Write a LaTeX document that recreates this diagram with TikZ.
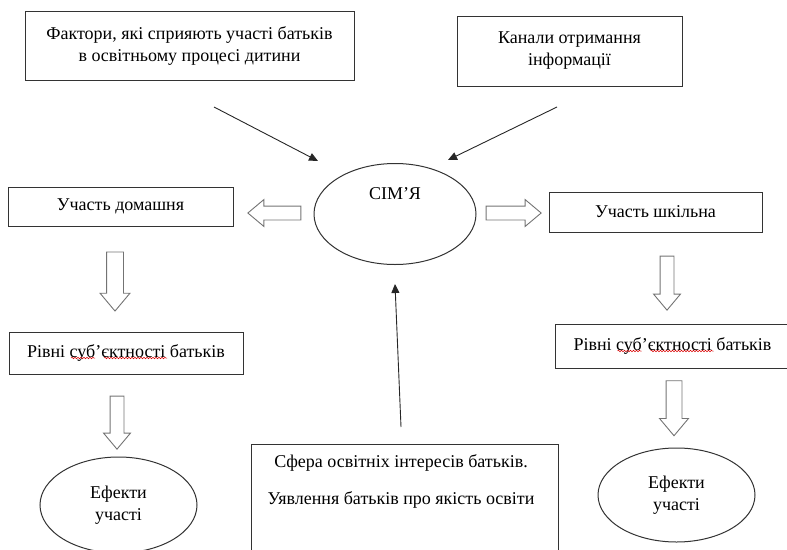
\documentclass[tikz,border=0pt]{standalone}
\usepackage{fontspec}
\setmainfont{Liberation Serif}
\usetikzlibrary{shapes.geometric,shapes.arrows,arrows.meta,decorations.pathmorphing}

\begin{document}
\begin{tikzpicture}[x=1pt,y=-1pt,
		every node/.style={font=\fontsize{18}{22}\selectfont},
		box/.style={draw=black!80,line width=1pt,rectangle,inner sep=0pt},
		oval/.style={draw=black!80,line width=1pt,ellipse,inner sep=0pt},
		barrow/.style={draw=black!55,line width=0.9pt,single arrow,inner xsep=0pt,inner ysep=6.5pt,single arrow head extend=6.5pt,single arrow tip angle=80},
		vbarrow/.style={barrow,inner xsep=#1,inner ysep=0pt,shape border rotate=270},
		vbarrow/.default=6.5pt,
		pointer/.style={draw=black!85,line width=0.9pt,-{Triangle[length=9pt,width=8pt]}},
		squiggle/.style={draw=red!85!black,line width=0.5pt,decorate,decoration={snake,amplitude=0.8pt,segment length=3pt}}]
	\useasboundingbox (0,0) rectangle (787,549);
	% top boxes
	\node[box,minimum width=329,minimum height=69,align=center] (fact) at (189.5,45.5) {Фактори, які сприяють участі батьків\\в освітньому процесі дитини};
	\node[box,minimum width=225,minimum height=70,align=center] (chan) at (569.5,51) {Канали отримання\\інформації};
	% centre
	\node[oval,minimum width=162,minimum height=101,label={[yshift=20pt]center:СІМ’Я}] (sim) at (395,214) {};
	% left column
	\node[box,minimum width=225,minimum height=39] (home) at (120.5,206.5) {Участь домашня};
	\node[box,minimum width=234,minimum height=42] (lvlL) at (126,353) {Рівні суб’єктності батьків};
	\node[oval,minimum width=157,minimum height=96,align=center] (effL) at (118.5,505) {Ефекти\\участі};
	% right column
	\node[box,minimum width=213,minimum height=40] (school) at (655.5,212) {Участь шкільна};
	\node[box,minimum width=235,minimum height=44] (lvlR) at (672.5,346) {Рівні суб’єктності батьків};
	\node[oval,minimum width=157,minimum height=94,align=center] (effR) at (676.5,495) {Ефекти\\участі};
	% bottom
	\node[box,minimum width=307,minimum height=130,anchor=north] (sph) at (404.5,444) {};
	\node[anchor=north,align=center] (sphtext) at (401,451) {Сфера освітніх інтересів батьків.\\[15pt]Уявлення батьків про якість освіти};

	% spelling marks
	\draw[squiggle] ([xshift=-55pt,yshift=-5pt]lvlL.center) -- ++(24,0);
	\draw[squiggle] ([xshift=-22pt,yshift=-5pt]lvlL.center) -- ++(63,0);
	\draw[squiggle] ([xshift=-55pt,yshift=-5pt]lvlR.center) -- ++(24,0);
	\draw[squiggle] ([xshift=-22pt,yshift=-5pt]lvlR.center) -- ++(63,0);

	% block arrows
	\node[barrow,minimum height=53,shape border rotate=180] (toHome) at (278.5,213) {};
	\node[barrow,minimum height=55,shape border rotate=0] (toSchool) at (509.5,213) {};
	\node[vbarrow=8pt,minimum height=59] (downL1) at (115,276.5) {};
	\node[vbarrow,minimum height=53] (downL2) at (117,418.5) {};
	\node[vbarrow,minimum height=54] (downR1) at (667,279) {};
	\node[vbarrow=7.5pt,minimum height=55] (downR2) at (674,403.5) {};

	% thin arrows
	\coordinate (f1) at (214,107);
	\coordinate (f2) at (318,161);
	\coordinate (c1) at (557,107);
	\coordinate (c2) at (448,160);
	\coordinate (s1) at (401,427);
	\coordinate (s2) at (395,284);
	\draw[pointer] (f1) -- (f2);
	\draw[pointer] (c1) -- (c2);
	\draw[pointer] (s1) -- (s2);
\end{tikzpicture}
\end{document}
